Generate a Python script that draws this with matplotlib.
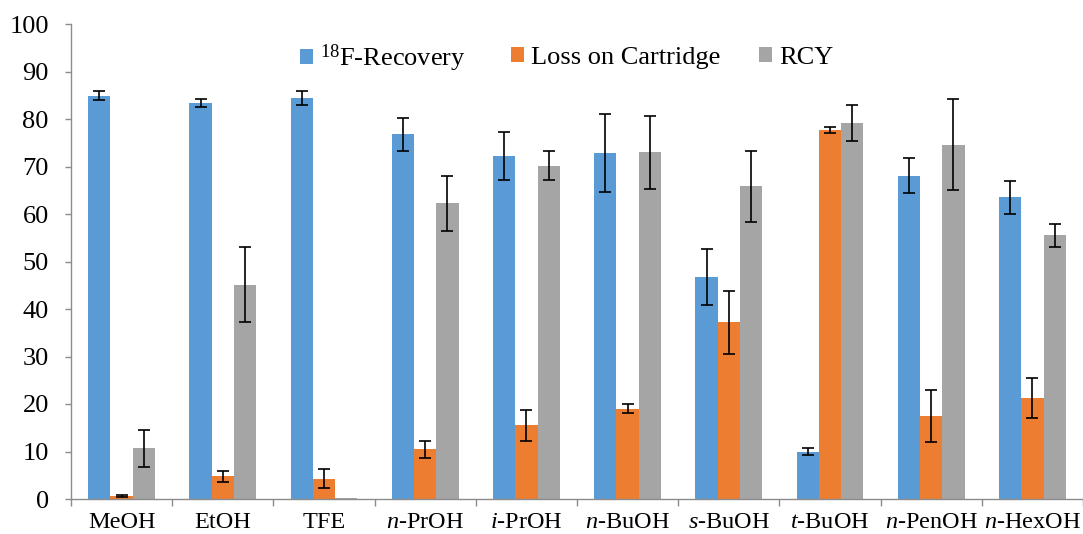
import numpy as np
import matplotlib
matplotlib.use("Agg")
import matplotlib.pyplot as plt
from matplotlib.patches import Patch

plt.rcParams["font.family"] = ["Liberation Serif", "DejaVu Serif"]
plt.rcParams["mathtext.fontset"] = "custom"
plt.rcParams["mathtext.rm"] = "Liberation Serif"
plt.rcParams["mathtext.it"] = "Liberation Serif:italic"

# Solvents
categories = ["MeOH", "EtOH", "TFE", r"$\mathit{n}$-PrOH", r"$\mathit{i}$-PrOH",
              r"$\mathit{n}$-BuOH", r"$\mathit{s}$-BuOH", r"$\mathit{t}$-BuOH",
              r"$\mathit{n}$-PenOH", r"$\mathit{n}$-HexOH"]

# 18F recovery (%)
recovery = [84.9, 83.4, 84.4, 76.8, 72.2, 72.8, 46.7, 10.0, 68.1, 63.5]
recovery_err = [1.0, 0.9, 1.5, 3.5, 5.0, 8.2, 5.9, 0.75, 3.7, 3.55]

# Activity lost on cartridge (%)
loss = [0.6, 4.8, 4.3, 10.5, 15.5, 19.0, 37.2, 77.7, 17.5, 21.2]
loss_err = [0.2, 1.15, 1.95, 1.8, 3.25, 0.95, 6.6, 0.7, 5.45, 4.25]

# Radiochemical yield (%)
rcy = [10.7, 45.1, 0.2, 62.3, 70.2, 73.0, 65.8, 79.2, 74.6, 55.5]
rcy_err = [3.9, 7.9, 0.0, 5.8, 3.05, 7.7, 7.5, 3.8, 9.6, 2.45]

series_labels = [r"$^{\mathrm{18}}$F-Recovery", "Loss on Cartridge", "RCY"]
colors = ["#5B9BD5", "#ED7D31", "#A5A5A5"]

W, H = 1083, 534
fig = plt.figure(figsize=(W / 100, H / 100), dpi=100)
ax = fig.add_axes([71 / W, 35 / H, (W - 71) / W, 475 / H])

x = np.arange(len(categories))
bw = 0.22
for i, (vals, errs) in enumerate([(recovery, recovery_err), (loss, loss_err), (rcy, rcy_err)]):
    xs = x + (i - 1) * bw
    ax.bar(xs, vals, bw, color=colors[i], zorder=2)
    vals = np.asarray(vals, dtype=float)
    errs = np.asarray(errs, dtype=float)
    has = errs > 0
    ax.errorbar(xs[has], vals[has], yerr=errs[has], fmt="none", ecolor="black",
                elinewidth=1.2, capsize=4.3, capthick=1.2, zorder=3)

ax.set_ylim(0, 100)
ax.set_xlim(-0.5, -0.5 + (W - 71) / 102.5)
ax.set_yticks(np.arange(0, 101, 10))
ax.set_xticks(x)
ax.set_xticklabels(categories)
ax.set_xticks(np.arange(-0.5, len(categories) + 0.5, 1), minor=True)

for s in ["top", "right"]:
    ax.spines[s].set_visible(False)
for s in ["left", "bottom"]:
    ax.spines[s].set_color("#8C8C8C")
    ax.spines[s].set_linewidth(1.0)

ax.tick_params(axis="y", direction="out", length=4, width=1.0, color="#8C8C8C",
               labelsize=19, pad=12)
ax.tick_params(axis="x", which="major", length=0, labelsize=17.5, pad=9)
ax.tick_params(axis="x", which="minor", direction="out", length=5, width=1.0,
               color="#8C8C8C")

# Legend entries, one per series, laid out across the top
anchors = [299.5 / W, 510.5 / W, 758.5 / W]
for lab, col, ax_x in zip(series_labels, colors, anchors):
    fig.legend(handles=[Patch(facecolor=col, edgecolor="none", label=lab)],
               loc="center left", bbox_to_anchor=(ax_x, 1 - 58 / H),
               frameon=False, fontsize=19, handlelength=0.52, handleheight=0.52,
               handletextpad=0.25, borderpad=0, borderaxespad=0)

fig.savefig("out.png", dpi=100)
